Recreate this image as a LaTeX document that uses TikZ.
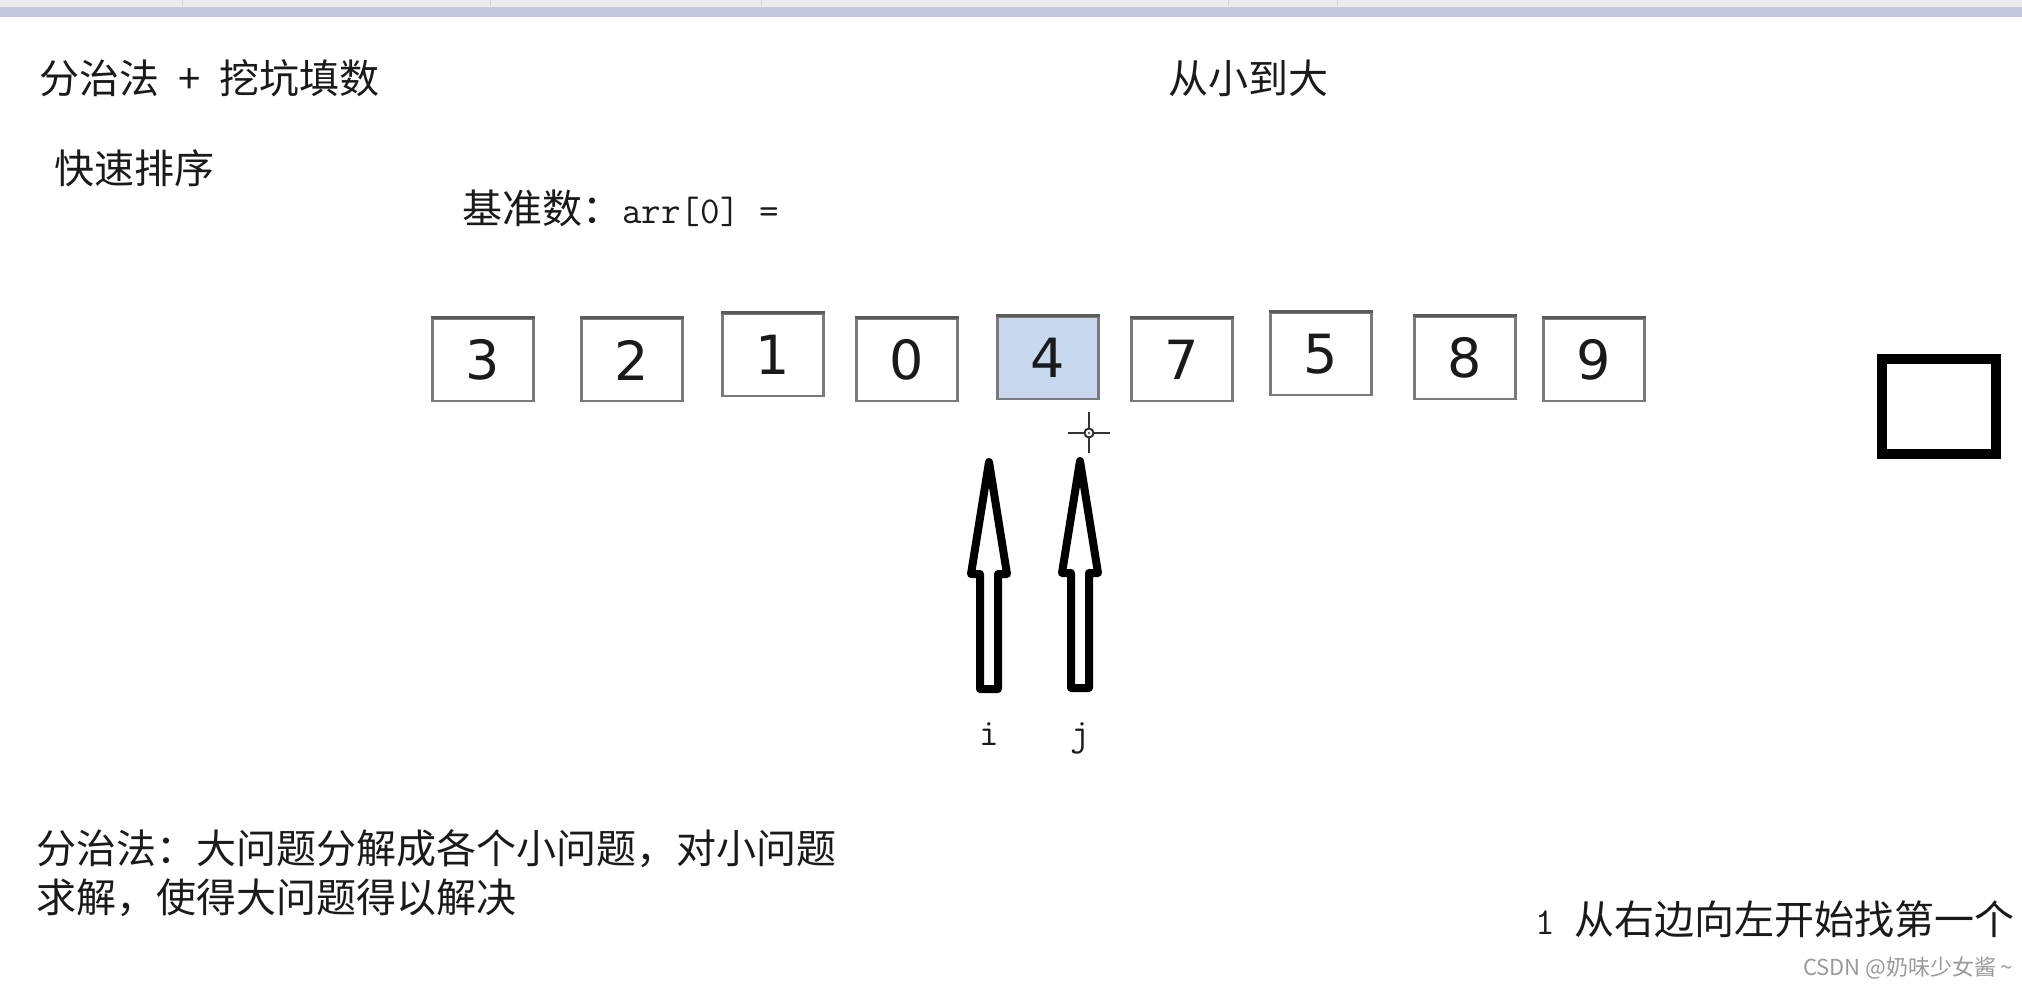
\documentclass[tikz,border=0pt]{standalone}
\usepackage{fontspec}
\setmainfont{Liberation Serif}
\newfontfamily\cjk{Noto Sans CJK SC}
\newfontfamily\monof{Latin Modern Mono}
\newfontfamily\digitf{DejaVu Sans}
\definecolor{barband}{HTML}{C3C7DD}
\definecolor{bartop}{HTML}{ECECEC}
\definecolor{barsep}{HTML}{D4D4D4}
\definecolor{cellborder}{HTML}{7A7A7A}
\definecolor{celltop}{HTML}{5A5A5A}
\definecolor{cellblue}{HTML}{C8D8EE}
\definecolor{inkc}{HTML}{1A1A1A}
\definecolor{markc}{HTML}{9A9A9A}
\definecolor{cursorc}{HTML}{333333}
\tikzset{
  cell/.style={draw=cellborder, line width=2.5pt, fill=white, minimum width=101pt, minimum height=82pt, inner sep=0pt, font=\digitf\fontsize{54}{54}\selectfont, text=inkc},
  pivotcell/.style={cell, fill=cellblue},
  topedge/.style={draw=celltop, line width=3pt},
  cjktext/.style={anchor=base west, inner sep=0pt, font=\cjk\fontsize{40}{48}\selectfont, text=inkc},
  ptrlabel/.style={anchor=base, inner sep=0pt, font=\monof\fontsize{38}{38}\selectfont, text=inkc},
  marktext/.style={anchor=base west, inner sep=0pt, font=\cjk\fontsize{22}{22}\selectfont, text=markc},
  pics/blockarr/.style={code={
    \draw[line width=8pt, line join=round, fill=white]
      (0,0) -- (18,112) -- (9,112) -- (9,227) -- (-9,227) -- (-9,112) -- (-18,112) -- cycle;}},
}
\begin{document}
\begin{tikzpicture}[x=1pt, y=-1pt]
\useasboundingbox (0,0) rectangle (2022,991);
\fill[white] (0,0) rectangle (2022,991);
% window bar
\fill[bartop] (0,0) rectangle (2022,7);
\fill[barband] (0,7) rectangle (2022,17);
\foreach \sx in {182,490,761,1228,1337}{\draw[barsep, line width=1pt] (\sx,0) -- (\sx,6);}

% titles
\node[cjktext] (title) at (39,93) {分治法\makebox[1.5em]{+}挖坑填数};
\node[cjktext] (order) at (1168,93) {从小到大};
\node[cjktext] (qsort) at (54,183) {快速排序};
\node[cjktext] (pivot) at (462,223) {基准数：{\monof\fontsize{38}{38}\selectfont arr[0] =}};

% array cells
\node[cell]      (b1) at (483,360)   {3};
\node[cell]      (b2) at (632,360)   {2};
\node[cell]      (b3) at (773,355)   {1};
\node[cell]      (b4) at (907,360)   {0};
\node[pivotcell] (b5) at (1048,358)  {4};
\node[cell]      (b6) at (1182,360)  {7};
\node[cell]      (b7) at (1321,354)  {5};
\node[cell]      (b8) at (1465,358)  {8};
\node[cell]      (b9) at (1594,360)  {9};
\foreach \b in {b1,b2,b3,b4,b5,b6,b7,b8,b9}{\draw[topedge] (\b.north west) -- (\b.north east);}

% temporary slot
\draw[line width=10pt] (1882,359) rectangle (1996,454);

% pointers
\pic at (989,462) {blockarr};
\pic at (1080,461) {blockarr};
\node[ptrlabel] (ilab) at (989,745) {i};
\node[ptrlabel] (jlab) at (1080,745) {j};

% mouse cursor
\coordinate (cur) at (1089,433);
\draw[cursorc, line width=2pt] ([xshift=-21pt]cur) -- ([xshift=-5pt]cur);
\draw[cursorc, line width=2pt] ([xshift=5pt]cur) -- ([xshift=21pt]cur);
\draw[cursorc, line width=2pt] ([yshift=21pt]cur) -- ([yshift=5pt]cur);
\draw[cursorc, line width=2pt] ([yshift=-5pt]cur) -- ([yshift=-20pt]cur);
\draw[cursorc, line width=2pt, fill=white] (cur) circle (4.5pt);
\fill[cursorc] (cur) circle (1.2pt);

% notes
\node[cjktext] (note1) at (36,863) {分治法：大问题分解成各个小问题，对小问题};
\node[cjktext] (note2) at (36,912) {求解，使得大问题得以解决};
\node[cjktext] (step1) at (1535,934) {{\monof\fontsize{38}{38}\selectfont 1 }从右边向左开始找第一个};
\node[marktext] (mark) at (1803,975) {CSDN @奶味少女酱\,\textasciitilde};
\end{tikzpicture}
\end{document}
